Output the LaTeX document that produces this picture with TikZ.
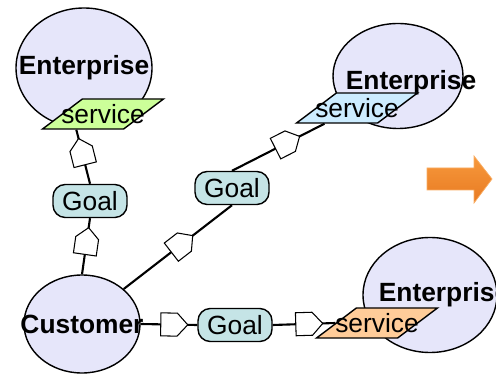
\documentclass[tikz,border=0pt]{standalone}
\usepackage{fontspec}
\setmainfont{Liberation Sans}
\usepackage{tikz}
\usetikzlibrary{arrows.meta, positioning, shapes.geometric, shapes.symbols, calc}

\definecolor{orgfill}{HTML}{E6E6FA}
\definecolor{goalfill}{HTML}{C5E4E6}
\definecolor{svcgreen}{HTML}{CCFF99}
\definecolor{svcblue}{HTML}{CCECFF}
\definecolor{svcorange}{HTML}{FFCC99}
\definecolor{arrowtop}{HTML}{F7993C}
\definecolor{arrowbot}{HTML}{E87A22}

\newlength\pxu
\setlength\pxu{0.02cm}

\begin{document}
\begin{tikzpicture}[
        x=0.02cm, y=-0.02cm,
        every node/.style={font=\fontsize{15}{17}\selectfont},
        org/.style={draw, ellipse, line width=0.8pt, fill=orgfill, inner sep=0pt},
        orgname/.style={font=\fontsize{15}{17}\selectfont\bfseries},
        service/.style={draw, line width=0.8pt, trapezium, trapezium left angle=46, trapezium right angle=134,
            trapezium stretches=true, minimum width=121\pxu, minimum height=30\pxu, inner sep=2pt},
        goal/.style={draw, line width=0.8pt, rounded corners=7pt, fill=goalfill, minimum width=74\pxu,
            minimum height=33\pxu, inner sep=0pt},
        marker/.style={draw, line width=0.6pt, fill=white, signal, signal to=east, signal pointer angle=95,
            minimum width=27\pxu, minimum height=23\pxu, inner sep=0pt, sloped, allow upside down},
        conn/.style={draw, line width=1.2pt}
    ]
        \useasboundingbox (0,0) rectangle (496,374);

        % Parties
        \node[org, minimum width=136\pxu, minimum height=120\pxu,
            label={[orgname]center:Enterprise}] (entA) at (84,68) {};
        \node[org, minimum width=130\pxu, minimum height=105\pxu,
            label={[orgname, shift={(13,7)}]center:Enterprise}] (entB) at (398,76) {};
        \node[org, minimum width=134\pxu, minimum height=115\pxu,
            label={[orgname, shift={(14,0)}]center:Enterprise}] (entC) at (430,295) {};
        \node[org, minimum width=116\pxu, minimum height=98\pxu,
            label={[orgname]center:Customer}] (cust) at (82,324) {};

        % Services
        \node[service, fill=svcgreen, label=center:service] (svcA) at (103,114) {};
        \node[service, fill=svcblue, label=center:service] (svcB) at (357,108) {};
        \node[service, fill=svcorange, label=center:service] (svcC) at (377,323) {};
        \coordinate (svcAin) at ($(svcA.bottom left corner)!0.43!(svcA.bottom right corner)$);
        \coordinate (svcBin) at ($(svcB.bottom left corner)!0.36!(svcB.bottom right corner)$);

        % Goals
        \node[goal] (goalA) at (90,201) {Goal};
        \node[goal] (goalB) at (232,188) {Goal};
        \node[goal] (goalC) at (235,325) {Goal};

        % Links
        \draw[conn] (cust.north) -- node[marker] (mkA1) {} (goalA.south);
        \draw[conn] (goalA.north) -- node[marker] (mkA2) {} (svcAin);
        \draw[conn] (cust.40) -- node[marker] (mkB1) {} (goalB.south);
        \draw[conn] (goalB.north) -- node[marker, pos=0.55] (mkB2) {} (svcBin);
        \draw[conn] (cust.east) -- node[marker] (mkC1) {} (goalC.west);
        \draw[conn] (goalC.east) -- node[marker] (mkC2) {} (svcC.left side);

        % Arrow
        \shade[top color=arrowtop, bottom color=arrowbot, draw=arrowtop!80!white, line width=0.4pt]
            (427,168) -- (474,168) -- (474,156) -- (492,179) -- (474,203) -- (474,190) -- (427,190) -- cycle;
    \end{tikzpicture}
\end{document}
